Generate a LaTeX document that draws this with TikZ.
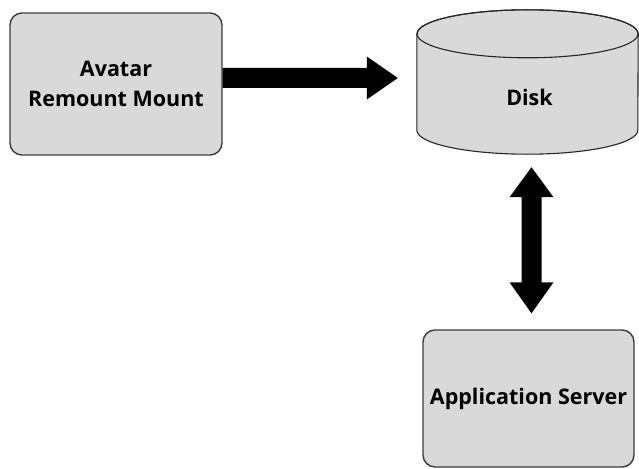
\documentclass[tikz,border=0pt]{standalone}
\usepackage{fontspec}
\setmainfont{Open Sans}
\usetikzlibrary{calc}
\definecolor{boxgray}{RGB}{217,217,217}
\definecolor{edgegray}{RGB}{60,60,60}
\tikzset{
  procbox/.style={draw=edgegray, line width=1.4pt, fill=boxgray, rounded corners=12pt,
    inner sep=0pt, align=center, font=\bfseries\fontsize{21.5}{30}\selectfont},
  fatarrow/.style={fill=black},
}
\begin{document}
\begin{tikzpicture}[x=1pt,y=-1pt]
\useasboundingbox (0,0) rectangle (639,468);
% boxes
\node[procbox, minimum width=212pt, minimum height=142pt] (avatar) at (116,84)
  {Avatar\\Remount Mount};
\node[procbox, minimum width=211pt, minimum height=137pt] (app) at (528.5,398.5)
  {Application Server};
% disk (cylinder)
\node[minimum width=221pt, minimum height=144pt, inner sep=0pt] (disk) at (527.5,82) {};
\filldraw[fill=boxgray, draw=black!85, line width=1.1pt]
  ($(disk.north west)+(0,24)$) -- ($(disk.south west)+(0,-24)$)
  arc[start angle=180, end angle=360, x radius=110.5pt, y radius=24pt]
  -- ($(disk.north east)+(0,24)$)
  arc[start angle=0, end angle=180, x radius=110.5pt, y radius=24pt] -- cycle;
\draw[draw=black!85, line width=1.1pt] ($(disk.north)+(0,24)$)
  ellipse[x radius=110.5pt, y radius=24pt];
\node[font=\bfseries\fontsize{21.5}{24}\selectfont] (disklabel) at ($(disk.center)+(2,15)$) {Disk};
% arrow from avatar to disk
\coordinate (a1s) at ($(avatar.east)+(0,-6)$);
\coordinate (a1e) at ($(disk.west)+(-19,-4)$);
\fill[fatarrow] let \p1=(a1s), \p2=(a1e) in
  (\x1,\y1+10pt) -- (\x2-31pt,\y1+10pt) -- (\x2-31pt,\y1+21.5pt) -- (\x2,\y1)
  -- (\x2-31pt,\y1-21.5pt) -- (\x2-31pt,\y1-10pt) -- (\x1,\y1-10pt) -- cycle;
% double arrow between disk and app
\coordinate (d1) at ($(disk.south)+(4,13)$);
\coordinate (d2) at ($(app.north)+(3.5,-16)$);
\fill[fatarrow] let \p1=(d1), \p2=(d2) in
  (\x1,\y1) -- (\x1+22pt,\y1-30pt) -- (\x1+10pt,\y1-30pt) -- (\x1+10pt,\y2+31pt)
  -- (\x1+22pt,\y2+31pt) -- (\x1,\y2) -- (\x1-22pt,\y2+31pt) -- (\x1-10pt,\y2+31pt)
  -- (\x1-10pt,\y1-30pt) -- (\x1-22pt,\y1-30pt) -- cycle;
\end{tikzpicture}
\end{document}
